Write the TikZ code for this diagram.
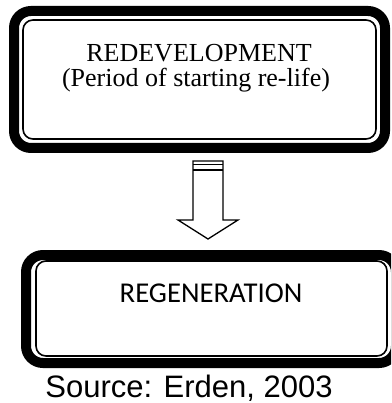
\documentclass[tikz,border=0pt]{standalone}
\usepackage{fontspec}
\setmainfont{Liberation Serif}
\newfontfamily\calibrifont{Carlito}
\newfontfamily\arialfont{Liberation Sans}
\begin{document}
\begin{tikzpicture}[x=1pt,y=-1pt,
  band/.style={draw=black,line width=10pt,rounded corners=17pt},
  rim/.style={draw=black,line width=1.6pt,rounded corners=10pt},
  outl/.style={draw=black,line width=1.3pt,line join=miter},
  label/.style={anchor=base,inner sep=0pt}]
\useasboundingbox (0,0) rectangle (391,403);
\begin{scope}
\clip (0,0) rectangle (391,403);
% upper framed box
\draw[band] (14,11) rectangle (385,148);
\draw[rim] (23,20) rectangle (376,139);
\node[label,font=\fontsize{26}{30}\selectfont] (t1) at (199,62) {REDEVELOPMENT};
\node[label,font=\fontsize{26}{30}\selectfont] (t2) at (196,87) {(Period of starting re-life)};
% block arrow
\coordinate (a1) at (193,161);
\coordinate (a2) at (223,161);
\draw[outl] (a1) -- (a2) -- (223,220) -- (238,220) -- (208,239) -- (178,220) -- (193,220) -- cycle;
\draw[outl] (193,164.5) -- (223,164.5);
\draw[outl] (193,170) -- (223,170);
% lower framed box
\draw[band] (26,255) rectangle (396,363);
\draw[rim] (36,261) rectangle (387,356);
\node[label,font=\calibrifont\fontsize{28.7}{32}\selectfont] (t3) at (211,302) {REGENERATION};
% source line
\node[label,font=\arialfont\fontsize{31}{36}\selectfont] (src) at (189,397) {Source: Erden, 2003};
\end{scope}
\end{tikzpicture}
\end{document}
